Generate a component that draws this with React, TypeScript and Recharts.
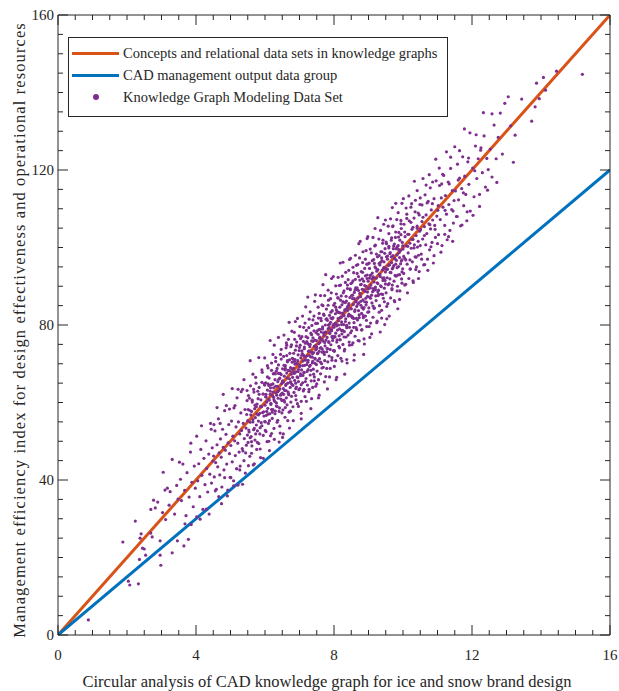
import React from "react"
import {
  ComposedChart,
  Scatter,
  Line,
  XAxis,
  YAxis,
  Legend,
  Label,
} from "recharts"

const FONT = "'Liberation Serif', 'Times New Roman', serif"
const INK = "#262626"

// tick positions (every 0.5 on x, every 5 on y), labelled ones are the majors
const xTicks = Array.from({ length: 33 }, (_, i) => i * 0.5)
const yTicks = Array.from({ length: 33 }, (_, i) => i * 5)
const xLabelled = [0, 4, 8, 12, 16]
const yLabelled = [0, 40, 80, 120, 160]

// fitted lines, end points
const conceptLine = [
  { x: 0, y: 0 },
  { x: 16, y: 160 },
]
const cadLine = [
  { x: 0, y: 0 },
  { x: 16, y: 120 },
]

// knowledge graph modeling data set (x, y)
const modelPoints: [number, number][] = [
  [0.88,3.9],[1.88,24.0],
  [2.04,13.9],[2.08,12.9],[2.33,13.2],[2.24,29.4],[2.38,25.0],[2.41,26.1],[2.45,22.4],[2.36,19.5],
  [2.50,22.2],[2.54,20.6],[2.69,26.3],[2.73,25.3],[2.96,20.6],[2.98,18.0],[2.96,24.3],[2.69,32.4],[2.82,32.8],[2.89,34.3],[2.77,34.8],
  [3.31,21.2],[3.46,24.3],[3.05,42.0],[3.10,37.4],[3.17,37.9],[3.25,37.0],[3.31,45.3],[3.12,29.8],[3.22,33.5],[3.38,31.2],[3.44,38.6],[3.48,35.1],[3.03,31.6],
  [3.65,23.0],[3.78,24.7],[3.55,40.2],[3.58,34.7],[3.62,44.1],[3.67,37.3],[3.71,30.8],[3.74,41.9],[3.80,35.6],[3.84,47.2],[3.88,39.4],[3.92,33.1],[3.95,43.6],[3.98,37.9],[3.86,28.5],
  [4.02,51.3],[4.05,39.8],[4.08,44.2],[4.11,35.7],[4.14,47.9],[4.17,41.2],[4.20,32.4],[4.23,45.6],[4.26,38.8],[4.29,50.1],[4.31,43.0],[4.34,36.9],[4.37,46.7],[4.40,41.5],[4.42,54.6],[4.45,39.2],[4.47,48.3],[4.49,44.9],[4.12,29.9],[4.38,31.2],
  [4.51,46.2],[4.53,40.8],[4.55,52.7],[4.57,44.5],[4.59,37.6],[4.61,49.1],[4.63,43.4],[4.65,55.8],[4.67,47.0],[4.69,41.3],[4.71,50.6],[4.73,45.9],[4.75,38.2],[4.77,53.1],[4.79,48.4],[4.81,42.6],[4.83,57.9],[4.85,47.7],[4.87,51.8],[4.89,44.1],[4.91,35.9],[4.93,49.6],[4.95,54.3],[4.97,46.8],[4.99,40.7],
  [5.01,48.9],[5.03,55.2],[5.05,44.7],[5.07,51.3],[5.09,39.8],[5.10,58.6],[5.12,50.1],[5.14,46.3],[5.16,53.7],[5.18,42.9],[5.19,61.2],[5.21,49.5],[5.23,55.0],[5.25,47.2],[5.27,51.9],[5.28,43.6],[5.30,57.3],[5.32,52.8],[5.34,48.1],[5.35,63.4],[5.37,54.6],[5.39,45.0],[5.40,50.7],[5.42,58.2],[5.43,41.8],[5.45,53.4],[5.46,49.0],[5.47,56.9],[5.48,60.5],[5.49,51.6],[5.22,38.7],[5.36,47.5],
  [5.50,55.3],[5.51,49.7],[5.52,61.8],[5.54,52.4],[5.55,58.0],[5.56,46.1],[5.57,54.9],[5.58,64.3],[5.60,51.2],[5.61,57.7],[5.62,48.8],[5.63,60.1],[5.65,55.6],[5.66,43.9],[5.67,53.0],[5.68,62.7],[5.70,58.4],[5.71,50.3],[5.72,56.1],[5.73,66.5],[5.75,54.2],[5.76,47.9],[5.77,59.6],[5.78,52.7],[5.80,61.0],[5.81,56.8],[5.82,49.4],[5.83,63.9],[5.85,57.2],[5.86,53.5],[5.87,45.8],[5.88,60.7],[5.90,58.9],[5.91,54.0],[5.92,67.8],[5.94,62.2],[5.95,51.5],[5.96,57.6],[5.98,64.8],[5.99,55.1],
  [6.00,59.3],[6.01,52.8],[6.02,65.1],[6.03,61.4],[6.04,56.7],[6.06,49.9],[6.07,63.2],[6.08,58.5],[6.09,68.9],[6.10,54.6],[6.11,60.8],[6.12,66.3],[6.14,57.1],[6.15,62.9],[6.16,51.4],[6.17,59.8],[6.18,64.6],[6.19,70.2],[6.21,55.9],[6.22,61.7],[6.23,58.2],[6.24,67.4],[6.25,63.8],[6.26,53.3],[6.28,60.3],[6.29,65.9],[6.30,57.8],[6.31,71.6],[6.32,62.5],[6.33,68.1],[6.35,59.0],[6.36,64.2],[6.37,55.4],[6.38,61.1],[6.39,69.7],[6.40,66.0],[6.42,58.6],[6.43,63.5],[6.44,52.1],[6.45,72.4],[6.46,60.9],[6.47,67.2],[6.48,64.9],[6.49,57.3],[6.13,47.6],[6.27,74.8],[6.41,49.8],[6.34,61.9],
  [6.50,62.4],[6.51,68.7],[6.52,58.1],[6.53,65.3],[6.54,71.9],[6.55,60.6],[6.56,66.8],[6.57,63.1],[6.58,56.2],[6.59,69.5],[6.60,64.4],[6.61,74.1],[6.62,61.2],[6.63,67.6],[6.64,59.4],[6.65,70.8],[6.66,65.0],[6.67,62.7],[6.68,76.3],[6.69,68.2],[6.70,57.5],[6.71,66.1],[6.72,72.7],[6.73,63.9],[6.74,69.0],[6.75,60.1],[6.76,67.3],[6.77,74.9],[6.78,64.7],[6.79,70.4],[6.80,66.5],[6.81,58.9],[6.82,71.2],[6.83,68.8],[6.84,62.6],[6.85,78.1],[6.86,65.7],[6.87,69.9],[6.88,73.5],[6.89,61.8],[6.90,67.9],[6.91,64.0],[6.92,75.6],[6.93,70.1],[6.94,59.7],[6.95,66.4],[6.96,72.3],[6.97,68.5],[6.98,63.3],[6.99,77.2],[6.53,51.9],[6.71,53.4],[6.88,80.9],[6.62,75.4],
  [7.00,69.2],[7.01,63.6],[7.02,74.8],[7.03,66.9],[7.04,71.5],[7.05,60.3],[7.06,68.4],[7.07,77.0],[7.08,72.6],[7.09,65.1],[7.10,70.7],[7.11,63.0],[7.12,79.4],[7.13,67.7],[7.14,73.9],[7.15,69.6],[7.16,61.5],[7.17,75.3],[7.18,71.1],[7.19,66.2],[7.20,78.6],[7.21,72.0],[7.22,68.0],[7.23,64.5],[7.24,76.7],[7.25,70.9],[7.26,73.2],[7.27,62.8],[7.28,81.5],[7.29,69.3],[7.30,74.4],[7.31,67.1],[7.32,71.8],[7.33,77.9],[7.34,65.6],[7.35,73.0],[7.36,79.9],[7.37,70.2],[7.38,63.9],[7.39,75.8],[7.40,68.6],[7.41,72.9],[7.42,82.3],[7.43,66.6],[7.44,76.1],[7.45,71.4],[7.46,74.7],[7.47,64.2],[7.48,78.0],[7.49,69.8],[7.05,55.8],[7.18,84.7],[7.33,58.4],[7.44,86.1],[7.12,72.2],[7.27,75.0],[7.38,70.6],[7.47,73.6],
  [7.50,74.3],[7.51,68.1],[7.52,80.4],[7.53,72.7],[7.54,77.6],[7.55,65.9],[7.56,75.2],[7.57,83.0],[7.58,71.3],[7.59,78.9],[7.60,74.0],[7.61,67.4],[7.62,81.7],[7.63,76.4],[7.64,70.0],[7.65,85.2],[7.66,73.8],[7.67,79.5],[7.68,75.9],[7.69,69.1],[7.70,82.8],[7.71,77.3],[7.72,72.4],[7.73,87.6],[7.74,74.6],[7.75,80.0],[7.76,66.7],[7.77,78.2],[7.78,84.1],[7.79,73.1],[7.80,76.8],[7.81,81.2],[7.82,70.5],[7.83,79.0],[7.84,86.4],[7.85,75.5],[7.86,72.0],[7.87,82.5],[7.88,77.8],[7.89,68.8],[7.90,80.7],[7.91,74.9],[7.92,88.3],[7.93,78.5],[7.94,71.6],[7.95,83.7],[7.96,76.0],[7.97,81.9],[7.98,73.4],[7.99,79.7],[7.55,61.2],[7.68,90.4],[7.81,63.5],[7.93,92.0],[7.62,74.2],[7.74,78.1],[7.86,79.3],[7.97,77.1],[7.58,76.6],[7.71,73.0],
  [8.00,79.4],[8.01,73.2],[8.02,85.6],[8.03,77.0],[8.04,82.9],[8.05,70.8],[8.06,80.3],[8.07,88.0],[8.08,75.6],[8.09,83.4],[8.10,78.7],[8.11,72.1],[8.12,86.9],[8.13,81.1],[8.14,74.5],[8.15,90.2],[8.16,79.0],[8.17,84.6],[8.18,76.2],[8.19,82.0],[8.20,71.4],[8.21,87.5],[8.22,80.8],[8.23,77.7],[8.24,92.6],[8.25,83.1],[8.26,75.0],[8.27,85.9],[8.28,80.1],[8.29,88.8],[8.30,78.3],[8.31,73.7],[8.32,84.0],[8.33,91.0],[8.34,81.6],[8.35,76.9],[8.36,86.2],[8.37,79.9],[8.38,70.2],[8.39,89.4],[8.40,83.8],[8.41,77.4],[8.42,85.0],[8.43,94.1],[8.44,80.5],[8.45,74.8],[8.46,87.1],[8.47,82.4],[8.48,78.0],[8.49,90.7],[8.06,65.9],[8.18,96.0],[8.31,67.3],[8.45,96.9],[8.12,81.7],[8.27,82.7],[8.38,84.4],[8.22,78.6],
  [8.50,84.2],[8.51,78.5],[8.52,90.9],[8.53,82.1],[8.54,87.7],[8.55,75.4],[8.56,85.3],[8.57,93.5],[8.58,80.6],[8.59,88.4],[8.60,83.5],[8.61,77.1],[8.62,91.8],[8.63,86.0],[8.64,79.3],[8.65,95.4],[8.66,84.8],[8.67,89.6],[8.68,81.3],[8.69,87.0],[8.70,76.0],[8.71,92.5],[8.72,85.7],[8.73,82.6],[8.74,97.3],[8.75,88.1],[8.76,80.0],[8.77,90.4],[8.78,85.1],[8.79,93.8],[8.80,83.0],[8.81,78.8],[8.82,89.2],[8.83,96.1],[8.84,86.5],[8.85,81.9],[8.86,91.3],[8.87,84.5],[8.88,75.1],[8.89,94.6],[8.90,88.7],[8.91,82.3],[8.92,90.0],[8.93,99.2],[8.94,85.9],[8.95,79.6],[8.96,92.0],[8.97,87.4],[8.98,83.3],[8.99,95.8],[8.58,70.9],[8.72,101.0],[8.86,72.4],[8.96,102.3],
  [9.00,89.5],[9.01,83.4],[9.02,96.0],[9.03,87.2],[9.05,92.8],[9.06,80.5],[9.07,90.3],[9.08,98.6],[9.10,85.7],[9.11,93.4],[9.12,88.6],[9.13,82.0],[9.15,96.9],[9.16,91.1],[9.17,84.4],[9.18,100.4],[9.20,89.8],[9.21,94.7],[9.22,86.3],[9.23,92.1],[9.25,81.0],[9.26,97.6],[9.27,90.7],[9.28,87.6],[9.30,102.2],[9.31,93.1],[9.32,85.0],[9.33,95.5],[9.35,90.1],[9.36,98.9],[9.37,88.0],[9.38,83.8],[9.40,94.2],[9.41,101.1],[9.42,91.5],[9.43,86.9],[9.45,96.3],[9.46,89.5],[9.47,80.1],[9.48,99.7],[9.49,93.7],[9.04,76.8],[9.19,104.9],[9.34,78.2],[9.44,106.0],[9.14,92.4],[9.29,89.0],[9.39,96.6],
  [9.50,94.6],[9.51,88.3],[9.52,101.0],[9.54,92.2],[9.55,97.8],[9.56,85.5],[9.58,95.4],[9.59,103.6],[9.60,90.7],[9.62,98.4],[9.63,93.6],[9.64,87.0],[9.66,101.9],[9.67,96.1],[9.68,89.4],[9.70,105.4],[9.71,94.8],[9.72,99.7],[9.74,91.3],[9.75,97.1],[9.76,86.0],[9.78,102.6],[9.79,95.7],[9.80,92.6],[9.82,107.2],[9.83,98.1],[9.84,90.0],[9.86,100.5],[9.87,95.1],[9.88,103.9],[9.90,93.0],[9.91,88.8],[9.92,99.2],[9.94,106.1],[9.95,96.5],[9.96,91.9],[9.98,101.3],[9.99,94.5],[9.53,81.6],[9.69,110.3],[9.85,84.2],[9.97,111.4],
  [10.00,99.6],[10.02,93.3],[10.03,106.0],[10.05,97.2],[10.06,102.8],[10.08,90.5],[10.09,100.4],[10.11,108.6],[10.12,95.7],[10.14,103.4],[10.15,98.6],[10.17,92.0],[10.18,106.9],[10.20,101.1],[10.21,94.4],[10.23,110.4],[10.24,99.8],[10.26,104.7],[10.27,96.3],[10.29,102.1],[10.30,91.0],[10.32,107.6],[10.33,100.7],[10.35,97.6],[10.36,112.2],[10.38,103.1],[10.39,95.0],[10.41,105.5],[10.42,100.1],[10.44,108.9],[10.45,98.0],[10.47,93.8],[10.48,104.2],[10.49,111.1],
  [10.51,104.6],[10.53,98.3],[10.55,111.0],[10.57,102.2],[10.58,107.8],[10.60,95.5],[10.62,105.4],[10.64,113.6],[10.66,100.7],[10.67,108.4],[10.69,103.6],[10.71,97.0],[10.73,111.9],[10.75,106.1],[10.77,99.4],[10.79,115.4],[10.80,104.8],[10.82,109.7],[10.84,101.3],[10.86,107.1],[10.88,96.0],[10.90,112.6],[10.92,105.7],[10.94,102.6],[10.96,117.2],[10.98,108.1],
  [11.01,109.6],[11.03,103.3],[11.06,116.0],[11.08,107.2],[11.11,112.8],[11.13,100.5],[11.16,110.4],[11.18,118.6],[11.21,105.7],[11.23,113.4],[11.26,108.6],[11.28,102.0],[11.31,116.9],[11.33,111.1],[11.36,104.4],[11.38,120.4],[11.41,109.8],[11.43,114.7],[11.46,106.3],[11.48,112.1],
  [11.52,114.6],[11.55,108.0],[11.58,121.5],[11.61,112.3],[11.64,117.9],[11.67,105.6],[11.70,115.2],[11.73,123.4],[11.76,110.8],[11.79,118.4],[11.82,113.7],[11.85,106.9],[11.88,122.1],[11.91,116.3],[11.95,109.4],
  [12.02,120.5],[12.06,113.1],[12.10,126.2],[12.14,117.8],[12.18,122.9],[12.22,110.6],[12.26,125.7],[12.30,119.3],[12.35,128.8],[12.39,115.6],[12.43,123.0],[12.47,120.1],
  [12.53,125.4],[12.58,118.2],[12.64,131.6],[12.70,122.9],[12.76,128.4],[12.82,134.7],[12.88,124.1],[12.95,137.2],
  [13.05,138.9],[13.20,122.0],[13.25,129.0],[13.44,138.3],[13.12,131.4],
  [13.73,132.6],[13.83,136.3],[13.87,142.4],[13.95,138.4],
  [14.07,143.9],[14.13,140.6],[14.45,145.5],
  [15.20,144.7],
]

// the looser outer part of the cloud
const modelPointsOuter: [number, number][] = [
  [3.52,44.6],[3.68,28.7],[3.85,49.5],[4.02,30.5],[4.16,54.0],[4.30,32.5],[4.44,53.1],
  [4.52,54.3],[4.56,37.2],[4.61,58.7],[4.66,35.7],[4.70,54.6],[4.74,33.9],[4.79,62.1],[4.83,40.6],[4.88,59.2],[4.92,37.4],[4.97,58.3],
  [5.01,40.6],[5.05,63.6],[5.09,38.5],[5.13,59.2],[5.18,42.9],[5.22,63.4],[5.27,42.6],[5.31,62.8],[5.35,38.9],[5.39,65.9],[5.44,47.0],[5.48,63.1],
  [5.52,43.7],[5.57,70.8],[5.61,46.9],[5.65,67.3],[5.69,44.2],[5.74,65.0],[5.78,49.7],[5.82,71.6],[5.86,48.0],[5.91,68.4],[5.95,45.6],[5.99,71.5],
  [6.03,52.5],[6.07,69.5],[6.11,50.0],[6.15,76.0],[6.19,52.0],[6.23,72.4],[6.27,50.5],[6.31,70.6],[6.35,54.9],[6.39,76.8],[6.43,53.9],[6.47,73.7],
  [6.51,51.0],[6.55,77.4],[6.59,58.7],[6.63,74.8],[6.66,55.3],[6.70,80.7],[6.74,57.8],[6.78,78.4],[6.82,55.3],[6.86,76.3],[6.90,60.7],[6.94,81.7],[6.97,59.0],
  [7.01,79.6],[7.05,57.2],[7.09,82.3],[7.13,63.4],[7.16,80.5],[7.20,60.3],[7.24,87.2],[7.28,63.4],[7.31,83.4],[7.35,61.0],[7.39,81.3],[7.43,65.6],[7.46,87.8],
  [7.50,64.8],[7.54,84.6],[7.57,61.9],[7.61,87.6],[7.65,68.9],[7.68,85.0],[7.72,65.3],[7.76,93.0],[7.79,68.8],[7.83,89.0],[7.87,66.6],[7.90,86.8],[7.94,70.9],[7.98,92.5],
  [8.01,69.3],[8.05,90.1],[8.08,66.5],[8.12,92.3],[8.16,74.1],[8.19,90.3],[8.23,70.7],[8.26,96.2],[8.30,73.3],[8.34,93.6],[8.37,71.1],[8.41,91.7],[8.44,75.6],[8.48,97.2],
  [8.52,74.9],[8.55,94.9],[8.59,72.3],[8.62,98.0],[8.66,78.8],[8.69,95.6],[8.73,75.9],[8.76,101.6],[8.80,78.7],[8.84,98.9],[8.87,76.4],[8.91,97.0],[8.94,81.2],[8.98,102.8],
  [9.02,79.6],[9.05,99.6],[9.09,77.7],[9.13,102.6],[9.16,84.3],[9.20,100.6],[9.24,80.6],[9.27,107.7],[9.31,83.3],[9.35,104.4],[9.38,81.8],[9.42,101.9],[9.46,86.0],[9.49,107.1],
  [9.53,84.8],[9.57,105.5],[9.60,82.3],[9.64,107.4],[9.68,89.1],[9.71,105.6],[9.75,86.3],[9.79,111.4],[9.83,88.8],[9.86,109.0],[9.90,86.6],[9.94,107.0],[9.97,90.8],
  [10.01,112.6],[10.05,90.3],[10.09,110.2],[10.13,88.3],[10.17,113.3],[10.21,94.5],[10.25,111.3],[10.29,91.4],[10.33,117.1],[10.37,94.3],[10.41,114.7],[10.45,92.0],
  [10.50,112.8],[10.54,97.0],[10.58,117.8],[10.63,95.6],[10.67,116.1],[10.72,94.1],[10.76,118.8],[10.81,100.2],[10.86,116.9],[10.90,97.9],[10.95,122.8],
  [11.00,101.0],[11.05,120.5],[11.10,98.8],[11.15,118.9],[11.21,103.4],[11.26,124.7],[11.32,102.8],[11.38,123.3],[11.44,101.6],
  [11.50,126.0],[11.57,108.0],[11.64,125.0],[11.71,105.8],[11.78,130.6],[11.86,109.2],[11.94,129.6],
  [12.03,108.3],[12.12,129.1],[12.22,113.7],[12.33,134.8],[12.45,114.8],[12.58,134.5],[12.72,116.8],
]

// the dense core of the cloud near the fitted line
const modelPointsCore: [number, number][] = [
  [5.51,58.2],[5.53,52.9],[5.55,61.1],[5.57,50.9],[5.59,56.8],[5.61,49.9],[5.63,60.6],[5.65,55.0],[5.67,63.4],[5.69,53.3],[5.71,59.3],[5.73,51.9],[5.75,58.9],[5.77,57.0],[5.79,62.9],[5.81,55.2],[5.83,62.1],[5.85,51.9],[5.87,59.0],[5.89,54.8],[5.91,65.2],[5.93,57.4],[5.95,62.2],[5.97,56.5],[5.99,64.5],
  [6.01,55.0],[6.03,62.1],[6.05,60.1],[6.07,66.6],[6.09,57.0],[6.11,64.4],[6.13,55.3],[6.15,62.1],[6.17,59.5],[6.19,68.3],[6.21,57.5],[6.23,64.8],[6.25,61.3],[6.27,67.6],[6.29,57.1],[6.31,64.2],[6.33,59.9],[6.35,68.8],[6.37,62.8],[6.39,67.5],[6.41,57.7],[6.43,66.3],[6.45,61.9],[6.47,71.2],[6.49,60.5],
  [6.51,65.6],[6.53,63.6],[6.55,69.6],[6.57,60.1],[6.59,68.8],[6.61,63.1],[6.63,72.1],[6.65,66.3],[6.67,68.3],[6.69,62.0],[6.71,71.0],[6.73,65.2],[6.75,74.4],[6.77,61.6],[6.79,68.7],[6.81,64.4],[6.83,72.7],[6.85,67.5],[6.87,71.1],[6.89,63.6],[6.91,74.6],[6.93,66.6],[6.95,70.8],[6.97,65.4],[6.99,73.4],
  [7.01,69.5],[7.03,76.5],[7.05,64.6],[7.07,73.3],[7.09,69.5],[7.11,75.8],[7.13,67.8],[7.15,71.9],[7.17,65.4],[7.19,77.0],[7.21,69.8],[7.23,75.3],[7.25,68.5],[7.27,79.3],[7.29,72.1],[7.31,75.0],[7.33,68.3],[7.35,77.5],[7.37,71.7],[7.39,76.7],[7.41,67.3],[7.43,74.5],[7.45,71.2],[7.47,80.4],[7.49,73.8],
  [7.51,78.5],[7.53,70.8],[7.55,81.8],[7.57,73.2],[7.59,76.9],[7.61,70.4],[7.63,81.1],[7.65,76.2],[7.67,79.0],[7.69,73.1],[7.71,82.5],[7.73,70.8],[7.75,78.2],[7.77,76.1],[7.79,81.6],[7.81,73.9],[7.83,85.1],[7.85,75.7],[7.87,80.2],[7.89,73.7],[7.91,83.3],[7.93,78.8],[7.95,81.6],[7.97,76.6],[7.99,85.1],
  [8.01,73.4],[8.03,80.4],[8.05,77.9],[8.07,83.9],[8.09,76.2],[8.11,87.1],[8.13,80.0],[8.15,83.2],[8.17,76.2],[8.19,86.4],[8.21,82.0],[8.23,85.2],[8.25,78.6],[8.27,88.3],[8.29,76.9],[8.31,83.7],[8.33,80.9],[8.35,87.4],[8.37,79.3],[8.39,90.3],[8.41,82.3],[8.43,85.5],[8.45,79.4],[8.47,89.3],[8.49,84.2],
  [8.51,87.6],[8.53,81.9],[8.55,91.4],[8.57,79.4],[8.59,86.8],[8.61,83.9],[8.63,89.6],[8.65,81.7],[8.67,93.3],[8.69,85.4],[8.71,88.9],[8.73,81.9],[8.75,91.6],[8.77,87.3],[8.79,90.5],[8.81,84.5],[8.83,93.6],[8.85,82.4],[8.87,89.1],[8.89,86.0],[8.91,92.7],[8.93,85.2],[8.95,95.7],[8.97,88.5],[8.99,91.3],
  [9.01,84.4],[9.03,94.6],[9.05,89.6],[9.07,92.9],[9.09,87.7],[9.11,96.6],[9.13,84.9],[9.15,92.2],[9.17,89.0],[9.19,95.0],[9.21,87.5],[9.23,98.3],[9.25,90.9],[9.27,94.3],[9.29,87.9],[9.31,97.9],[9.33,93.0],[9.35,96.2],[9.37,89.9],[9.39,98.9],[9.41,87.9],[9.43,94.5],[9.45,92.2],[9.47,98.5],[9.49,90.6],
  [9.51,101.4],[9.53,94.3],[9.55,97.0],[9.57,90.4],[9.59,100.3],[9.61,95.5],[9.63,98.7],[9.65,93.5],[9.67,102.5],[9.69,90.3],[9.71,97.9],[9.73,95.3],[9.75,100.9],[9.77,92.8],[9.79,104.0],[9.81,96.7],[9.83,100.2],[9.85,92.9],[9.87,102.7],[9.89,98.7],[9.91,101.9],[9.93,95.8],[9.95,104.9],[9.97,93.7],[9.99,100.4],
  [10.02,97.7],[10.05,104.0],[10.08,96.8],[10.11,107.5],[10.14,100.3],[10.17,103.4],[10.20,96.8],[10.23,106.5],[10.26,102.1],[10.29,105.2],[10.32,99.9],[10.35,109.2],[10.38,97.5],[10.41,105.0],[10.44,101.6],[10.47,108.4],[10.50,100.5],
  [10.55,106.7],[10.62,103.1],[10.70,111.5],[10.78,105.9],[10.85,111.3],[10.93,104.7],[11.02,110.8],[11.12,116.4],[11.22,109.6],[11.34,116.4],[11.45,109.4],[11.60,117.4],[11.75,114.1],[11.90,123.1],[12.08,119.8],[12.25,125.1],
  [6.02,61.5],[6.05,57.7],[6.09,64.8],[6.12,60.6],[6.16,63.8],[6.19,58.2],[6.23,62.7],[6.26,60.7],[6.30,67.4],[6.33,59.1],[6.37,65.4],[6.40,63.1],[6.44,67.5],[6.47,62.2],
  [6.51,65.3],[6.54,62.1],[6.58,68.4],[6.61,64.7],[6.65,70.5],[6.68,62.3],[6.72,68.2],[6.75,65.3],[6.79,71.4],[6.82,67.9],[6.86,70.6],[6.89,65.0],[6.93,70.0],[6.96,68.0],
  [7.00,74.2],[7.03,67.4],[7.07,72.2],[7.10,67.0],[7.14,74.3],[7.17,70.9],[7.21,75.7],[7.24,70.4],[7.28,73.3],[7.31,69.6],[7.35,75.9],[7.38,72.6],[7.42,78.5],[7.45,70.1],[7.49,76.0],
  [7.52,72.6],[7.56,78.8],[7.59,75.5],[7.63,78.2],[7.66,73.0],[7.70,77.9],[7.73,75.5],[7.77,81.5],[7.80,73.9],[7.84,80.0],[7.87,78.0],[7.91,81.8],[7.94,77.0],[7.98,80.1],
  [8.01,76.9],[8.05,84.6],[8.08,79.8],[8.12,83.3],[8.15,77.2],[8.19,83.1],[8.22,80.1],[8.26,86.0],[8.29,82.4],[8.33,85.8],[8.36,79.8],[8.40,84.8],[8.43,82.8],[8.47,89.1],
  [8.50,82.3],[8.54,86.8],[8.57,81.7],[8.61,89.1],[8.64,86.2],[8.68,89.1],[8.71,83.7],[8.75,88.1],[8.78,86.1],[8.82,91.9],[8.85,84.1],[8.89,90.2],[8.92,86.9],[8.96,92.9],[8.99,89.3],
  [9.03,92.1],[9.06,86.9],[9.10,91.9],[9.13,89.4],[9.17,95.9],[9.20,89.2],[9.24,93.9],[9.27,88.6],[9.31,95.9],[9.34,92.5],[9.38,97.3],[9.41,92.1],[9.45,94.9],[9.48,91.5],
  [9.52,97.6],[9.55,94.4],[9.59,99.9],[9.62,91.9],[9.66,97.6],[9.69,94.5],[9.73,100.4],[9.76,97.2],[9.80,99.7],[9.83,94.8],[9.87,99.5],[9.90,97.4],[9.94,103.3],[9.97,96.8],
]

const scatterData = [...modelPoints, ...modelPointsOuter, ...modelPointsCore].map(([x, y]) => ({ x, y }))

function BottomTick(props: any) {
  const { x, y, payload } = props
  const major = xLabelled.includes(payload.value)
  return (
    <g>
      <line x1={x} y1={y} x2={x} y2={y - (major ? 10 : 5)} stroke={INK} strokeWidth={1} />
      {major && (
        <text x={x} y={y + 25} textAnchor="middle" fontFamily={FONT} fontSize={15} fill={INK}>
          {payload.value}
        </text>
      )}
    </g>
  )
}

function TopTick(props: any) {
  const { x, y, payload } = props
  const major = xLabelled.includes(payload.value)
  return <line x1={x} y1={y} x2={x} y2={y + (major ? 10 : 5)} stroke={INK} strokeWidth={1} />
}

function LeftTick(props: any) {
  const { x, y, payload } = props
  const major = yLabelled.includes(payload.value)
  return (
    <g>
      <line x1={x} y1={y} x2={x + (major ? 10 : 5)} y2={y} stroke={INK} strokeWidth={1} />
      {major && (
        <text x={x - 4} y={y + 5} textAnchor="end" fontFamily={FONT} fontSize={15} fill={INK}>
          {payload.value}
        </text>
      )}
    </g>
  )
}

function RightTick(props: any) {
  const { x, y, payload } = props
  const major = yLabelled.includes(payload.value)
  return <line x1={x} y1={y} x2={x - (major ? 10 : 5)} y2={y} stroke={INK} strokeWidth={1} />
}

function Dot(props: any) {
  return <circle cx={props.cx} cy={props.cy} r={1.6} fill="#7E2F8E" />
}

function LegendBox() {
  const row = { display: "flex", alignItems: "center", height: 22 }
  const text = { fontFamily: FONT, fontSize: 14.5, color: INK, marginLeft: 4, whiteSpace: "nowrap" as const }
  return (
    <div
      style={{
        width: 375,
        height: 74,
        border: `1px solid ${INK}`,
        background: "#fff",
        boxSizing: "content-box",
        paddingTop: 4,
        paddingLeft: 3,
      }}
    >
      <div style={row}>
        <div style={{ width: 47, height: 3, background: "#D95319" }} />
        <span style={text}>Concepts and relational data sets in knowledge graphs</span>
      </div>
      <div style={row}>
        <div style={{ width: 47, height: 3, background: "#0072BD" }} />
        <span style={text}>CAD management output data group</span>
      </div>
      <div style={row}>
        <div style={{ width: 47, display: "flex", justifyContent: "center" }}>
          <div style={{ width: 6, height: 6, borderRadius: 3, background: "#7E2F8E" }} />
        </div>
        <span style={text}>Knowledge Graph Modeling Data Set</span>
      </div>
    </div>
  )
}

export default function App() {
  return (
    <div style={{ position: "absolute", left: 0, top: 0, width: 619, height: 691, background: "#fff" }}>
      <ComposedChart width={619} height={691} margin={{ top: 0, right: 0, bottom: 0, left: 0 }}>
        <XAxis
          xAxisId="b"
          type="number"
          dataKey="x"
          domain={[0, 16]}
          allowDataOverflow
          ticks={xTicks}
          interval={0}
          height={56}
          tickSize={0}
          tickMargin={0}
          tickLine={false}
          axisLine={{ stroke: INK }}
          tick={<BottomTick />}
        >
          <Label
            content={() => (
              <text x={327} y={687} textAnchor="middle" fontFamily={FONT} fontSize={16.5} fill={INK}>
                Circular analysis of CAD knowledge graph for ice and snow brand design
              </text>
            )}
          />
        </XAxis>
        <XAxis
          xAxisId="t"
          orientation="top"
          type="number"
          dataKey="x"
          domain={[0, 16]}
          allowDataOverflow
          ticks={xTicks}
          interval={0}
          height={15}
          tickSize={0}
          tickMargin={0}
          tickLine={false}
          axisLine={{ stroke: INK }}
          tick={<TopTick />}
        />
        <YAxis
          yAxisId="l"
          type="number"
          dataKey="y"
          domain={[0, 160]}
          allowDataOverflow
          ticks={yTicks}
          interval={0}
          width={58}
          tickSize={0}
          tickMargin={0}
          tickLine={false}
          axisLine={{ stroke: INK }}
          tick={<LeftTick />}
        >
          <Label
            content={() => (
              <text
                x={0}
                y={0}
                transform="translate(25 330) rotate(-90)"
                textAnchor="middle"
                fontFamily={FONT}
                fontSize={16.5}
                letterSpacing={1.1}
                fill={INK}
              >
                Management efficiency index for design effectiveness and operational resources
              </text>
            )}
          />
        </YAxis>
        <YAxis
          yAxisId="r"
          orientation="right"
          type="number"
          dataKey="y"
          domain={[0, 160]}
          allowDataOverflow
          ticks={yTicks}
          interval={0}
          width={9}
          tickSize={0}
          tickMargin={0}
          tickLine={false}
          axisLine={{ stroke: INK }}
          tick={<RightTick />}
        />
        <Scatter
          xAxisId="b"
          yAxisId="l"
          data={scatterData}
          dataKey="y"
          shape={<Dot />}
          isAnimationActive={false}
        />
        <Line
          xAxisId="b"
          yAxisId="l"
          data={conceptLine}
          dataKey="y"
          stroke="#D95319"
          strokeWidth={3}
          dot={false}
          activeDot={false}
          isAnimationActive={false}
        />
        <Line
          xAxisId="b"
          yAxisId="l"
          data={cadLine}
          dataKey="y"
          stroke="#0072BD"
          strokeWidth={3}
          dot={false}
          activeDot={false}
          isAnimationActive={false}
        />
        <Legend
          layout="horizontal"
          verticalAlign="middle"
          align="center"
          wrapperStyle={{ left: 68, top: 37, width: "auto" }}
          content={() => <LegendBox />}
        />
      </ComposedChart>
    </div>
  )
}
